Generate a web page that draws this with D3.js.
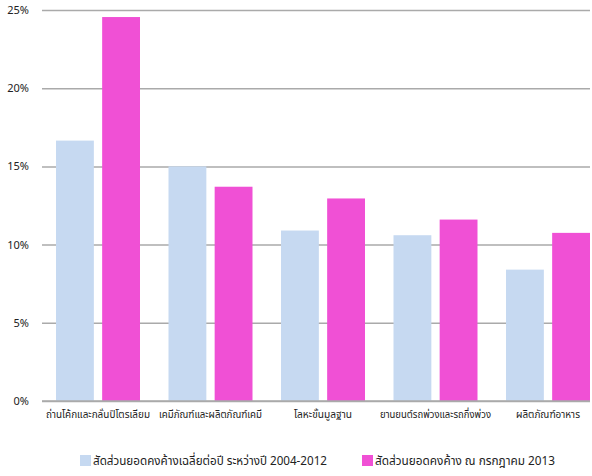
<!DOCTYPE html>
<html><head><meta charset="utf-8">
<script src="https://cdn.jsdelivr.net/npm/d3@7"></script>
<style>body{margin:0;background:#fff;}svg{display:block;}text{font-family:Tahoma,"Noto Sans Thai","Noto Sans","DejaVu Sans",sans-serif;}</style>
</head><body><svg id="c" width="592" height="476"></svg>
<script>
const categories = ["ถ่านโค้กและกลั่นปิโตรเลียม","เคมีภัณฑ์และผลิตภัณฑ์เคมี","โลหะขั้นมูลฐาน","ยานยนต์รถพ่วงและรถกึ่งพ่วง","ผลิตภัณฑ์อาหาร"];
const seriesNames = ["สัดส่วนยอดคงค้างเฉลี่ยต่อปี ระหว่างปี 2004-2012","สัดส่วนยอดคงค้าง ณ กรกฎาคม 2013"];
const avgValues = [16.65, 15.0, 10.9, 10.6, 8.4];
const julValues = [24.55, 13.7, 12.95, 11.6, 10.75];
const yTicks = [0, 5, 10, 15, 20, 25];
const colors = ["#c6d9f1", "#f050d5"];
const catWidths = [104, 103, 58, 111, 64];
const legWidths = [234, 180];

const svg = d3.select("#c");
const x = d3.scaleBand().domain(categories).range([42, 604.5]).paddingInner(0).paddingOuter(0);
const xs = d3.scaleBand().domain([0,1]).range([14, 98]).paddingInner(0.18);
const y = d3.scaleLinear().domain([0, 25]).range([401, 10]);

svg.append("defs").append("clipPath").attr("id","cl").append("rect").attr("x",0).attr("y",0).attr("width",591).attr("height",476);

const yAxis = d3.axisLeft(y).tickValues(yTicks).tickSize(-548).tickFormat(d => d + "%").tickPadding(13);
const ga = svg.append("g").attr("transform","translate(42,0)").call(yAxis);
ga.select(".domain").remove();
ga.selectAll(".tick line").attr("stroke","#aaa").attr("stroke-width",1.5);
ga.selectAll(".tick text").attr("font-size",11).attr("fill","#222");

const g = svg.append("g").attr("clip-path","url(#cl)");
const data = categories.map((c,i)=>({c, v:[avgValues[i], julValues[i]]}));
const grp = g.selectAll("g.grp").data(data).join("g").attr("transform", d=>`translate(${x(d.c)},0)`);
grp.selectAll("rect").data(d=>d.v.map((v,j)=>({v,j}))).join("rect")
  .attr("x", d=>xs(d.j)).attr("width", xs.bandwidth())
  .attr("y", d=>y(d.v)).attr("height", d=>y(0)-y(d.v))
  .attr("fill", d=>colors[d.j]);

svg.append("line").attr("x1",42).attr("x2",590).attr("y1",y(0)).attr("y2",y(0)).attr("stroke","#aaa").attr("stroke-width",1.5);

svg.selectAll("text.cat").data(categories).join("text").attr("class","cat")
  .attr("x", d=>x(d)+56).attr("y", 418).attr("text-anchor","middle").attr("font-size",10.5).attr("fill","#222")
  .attr("textLength",(d,i)=>catWidths[i]).attr("lengthAdjust","spacingAndGlyphs").text(d=>d);

const legX = [80, 362];
const lg = svg.selectAll("g.leg").data(seriesNames).join("g").attr("class","leg").attr("transform",(d,i)=>`translate(${legX[i]},455)`);
lg.append("rect").attr("width",11).attr("height",11).attr("fill",(d,i)=>colors[i]);
lg.append("text").attr("x",13).attr("y",10).attr("font-size",12.5).attr("fill","#222")
  .attr("textLength",(d,i)=>legWidths[i]).attr("lengthAdjust","spacingAndGlyphs").text(d=>d);
</script></body></html>
